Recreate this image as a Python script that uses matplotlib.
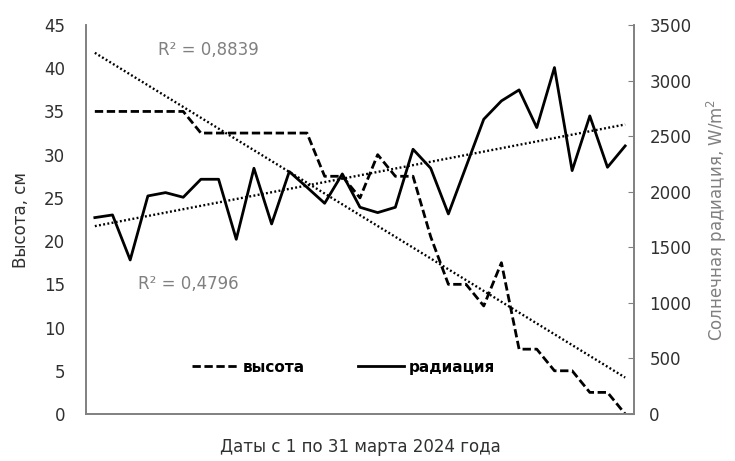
import numpy as np
import matplotlib
matplotlib.use("Agg")
import matplotlib.pyplot as plt

# === Data ===
days = list(range(1, 32))
height_cm = [35, 35, 35, 35, 35, 35,
             32.5, 32.5, 32.5, 32.5, 32.5, 32.5, 32.5,
             27.5, 27.5, 25, 30, 27.5, 27.5, 20.5,
             15, 15, 12.5, 17.5, 7.5, 7.5, 5, 5, 2.5, 2.5, 0]
radiation = [1767, 1791, 1386, 1962, 1992, 1950, 2112, 2112, 1572, 2211,
             1710, 2181, 2040, 1896, 2160, 1860, 1812, 1860, 2382, 2211,
             1800, 2226, 2652, 2817, 2916, 2577, 3117, 2190, 2682, 2220, 2412]
height_ticks = [0, 5, 10, 15, 20, 25, 30, 35, 40, 45]
rad_ticks = [0, 500, 1000, 1500, 2000, 2500, 3000, 3500]

grey = "#808080"
dark = "#303030"

fig = plt.figure(figsize=(7.35, 4.61), dpi=100)
ax = fig.add_axes([86 / 735, 47 / 461, 548 / 735, 389 / 461])
ax2 = ax.twinx()

x = np.array(days)

# height (left axis)
l1, = ax.plot(x, height_cm, color="black", lw=2.0, ls=(0, (3, 1.3)), label="высота")
k, b = np.polyfit(x, height_cm, 1)
ax.plot(x, k * x + b, color="black", lw=1.7, ls=(0, (0.8, 1.0)))

# radiation (right axis)
l2, = ax2.plot(x, radiation, color="black", lw=2.0, label="радиация")
k2, b2 = np.polyfit(x, radiation, 1)
ax2.plot(x, k2 * x + b2, color="black", lw=1.7, ls=(0, (0.8, 1.0)))

ax.set_xlim(0.5, 31.5)
ax.set_ylim(0, 45)
ax2.set_ylim(0, 3500)
ax.set_yticks(height_ticks)
ax2.set_yticks(rad_ticks)
ax.set_xticks([])

for a in (ax, ax2):
    a.spines["top"].set_visible(False)
    for s in ("left", "right", "bottom"):
        a.spines[s].set_color(grey)
        a.spines[s].set_linewidth(1.2)

ax.tick_params(axis="y", length=0, pad=15, labelsize=12, labelcolor=dark)
ax2.tick_params(axis="y", direction="in", length=4, color=grey, pad=11,
                labelsize=12, labelcolor=dark)

ax.set_ylabel("Высота, см", fontsize=12, color=dark, labelpad=10)
ax2.set_ylabel("Солнечная радиация, W/m$^2$", fontsize=12, color=grey, labelpad=10)
ax.set_xlabel("Даты с 1 по 31 марта 2024 года", fontsize=12, color=dark, labelpad=17)

ax.text(0.223, 0.936, "R² = 0,8839", transform=ax.transAxes, ha="center",
        va="center", fontsize=12, color=grey)
ax.text(0.186, 0.334, "R² = 0,4796", transform=ax.transAxes, ha="center",
        va="center", fontsize=12, color=grey)

ax.legend(handles=[l1, l2], loc="center", bbox_to_anchor=(0.47, 0.12),
          ncol=2, frameon=False, handlelength=3, handletextpad=0.3,
          columnspacing=3.5, prop={"weight": "bold", "size": 11})

fig.savefig("out.png", dpi=100)
